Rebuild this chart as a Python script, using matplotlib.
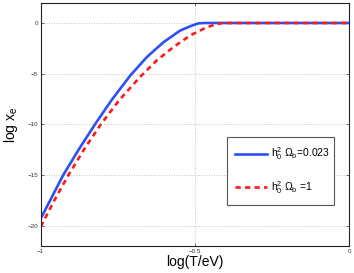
import matplotlib
matplotlib.use('Agg')
import matplotlib.pyplot as plt

log_t_a = [-1.0, -0.96, -0.927, -0.875, -0.824, -0.77, -0.71, -0.656, -0.602,
           -0.548, -0.51, -0.489, -0.47, 0.0]
log_xe_a = [-19.3, -16.95, -15.0, -12.4, -10.0, -7.6, -5.2, -3.37, -1.90,
            -0.75, -0.26, -0.04, 0.0, 0.0]

log_t_b = [-1.0, -0.955, -0.91, -0.858, -0.805, -0.745, -0.678, -0.624, -0.570,
           -0.516, -0.462, -0.429, -0.41, 0.0]
log_xe_b = [-20.1, -17.45, -15.0, -12.4, -10.0, -7.6, -5.33, -3.70, -2.39,
            -1.24, -0.43, -0.1, 0.0, 0.0]

label_a = r'$\mathregular{h_0^2\ \Omega_b}$=0.023'
label_b = r'$\mathregular{h_0^2\ \Omega_b}$ =1'

x_ticks = [-1, -0.5, 0]
y_ticks = [-20, -15, -10, -5, 0]


def init_plt_env():
    plt.rcParams['font.family'] = ['Liberation Sans', 'DejaVu Sans']
    plt.rcParams['mathtext.fontset'] = 'custom'
    plt.rcParams['mathtext.rm'] = 'Liberation Sans'
    plt.rcParams['mathtext.it'] = 'Liberation Sans'
    plt.rcParams['axes.unicode_minus'] = True


init_plt_env()
fig = plt.figure(figsize=(3.54, 2.73), dpi=100)
ax = fig.add_axes([0.115, 0.099, 0.871, 0.891])

ax.plot(log_t_a, log_xe_a, color='#2f4ff5', lw=1.9, label=label_a)
ax.plot(log_t_b, log_xe_b, color='#ff1a1a', lw=1.9, ls=(0, (2.0, 1.6)), label=label_b)

ax.set_xlim(-1, 0)
ax.set_ylim(-22, 2)
ax.set_xticks(x_ticks)
ax.set_xticklabels(['\u22121', '\u22120.5', '0'])
ax.set_yticks(y_ticks)
ax.set_yticklabels(['\u221220', '\u221215', '\u221210', '\u22125', '0'])
ax.tick_params(direction='in', length=2.5, width=0.5, labelsize=4.5,
               top=True, right=True, pad=2, colors='#333333')
ax.grid(True, ls=(0, (1, 2)), color='#b0b0b0', lw=0.6)
for s in ax.spines.values():
    s.set_linewidth(0.8)
    s.set_color('#222222')

ax.set_xlabel('log(T/eV)', fontsize=10, labelpad=1)
ax.set_ylabel(r'log x$_\mathregular{e}$', fontsize=10, labelpad=5)

leg = ax.legend(loc='upper left', bbox_to_anchor=(0.603, 0.449, 0.349, 0.0),
                mode='expand', fontsize=7.5, handlelength=3.0, labelspacing=1.6,
                borderpad=0.85, borderaxespad=0, fancybox=False, framealpha=1,
                handletextpad=0.4)
leg.get_frame().set_edgecolor('#555555')
leg.get_frame().set_linewidth(0.8)

fig.savefig('out.png', dpi=100)
